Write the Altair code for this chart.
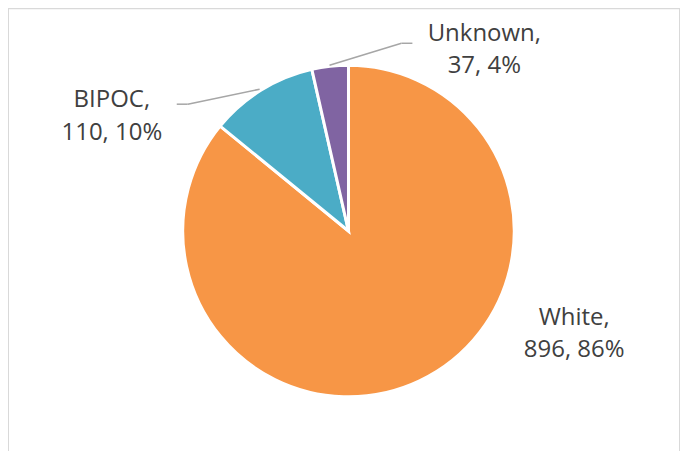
import altair as alt
import pandas as pd

categories = ["White", "BIPOC", "Unknown"]
counts = [896, 110, 37]
percents = [86, 10, 4]
colors = ["#F79646", "#4BACC6", "#8064A2"]

df = pd.DataFrame({
    "category": categories,
    "count": counts,
    "pct": percents,
    "order": list(range(len(categories))),
})
df["line1"] = df["category"] + ","
df["line2"] = df["count"].astype(str) + ", " + df["pct"].astype(str) + "%"

W, H = 673, 450
CX, CY = 341, 223

base = alt.Chart(df)

pie = base.mark_arc(outerRadius=166, stroke="white", strokeWidth=3).encode(
    theta=alt.Theta("count:Q", stack=True),
    color=alt.Color("category:N", scale=alt.Scale(domain=categories, range=colors), legend=None),
    order=alt.Order("order:Q"),
    x=alt.value(CX),
    y=alt.value(CY),
)

label_pos = {
    "White": (567, 310, 342),
    "BIPOC": (104, 92, 125),
    "Unknown": (477, 26, 58),
}

layers = [pie]
for cat, (lx, ly1, ly2) in label_pos.items():
    sub = base.transform_filter(alt.datum.category == cat)
    for field, ly in (("line1", ly1), ("line2", ly2)):
        layers.append(
            sub.mark_text(font="Open Sans", fontSize=24, color="#404040", align="center", baseline="middle").encode(
                text=f"{field}:N", x=alt.value(lx), y=alt.value(ly)
            )
        )

leader = alt.Chart(pd.DataFrame({"k": [0]}))
segments = [
    (322, 57, 394, 35), (394, 35, 405, 35),
    (252, 81, 180, 96), (180, 96, 169, 96),
]
for x1, y1, x2, y2 in segments:
    layers.append(
        leader.mark_rule(color="#A6A6A6", strokeWidth=1.5).encode(
            x=alt.value(x1), y=alt.value(y1), x2=alt.value(x2), y2=alt.value(y2)
        )
    )

chart = alt.layer(*layers).properties(
    width=W, height=H, padding=0, autosize=alt.AutoSizeParams(type="none")
).configure_view(stroke="#D9D9D9", strokeWidth=2)

chart.save("out.html", embed_options={"renderer": "svg", "actions": False})
